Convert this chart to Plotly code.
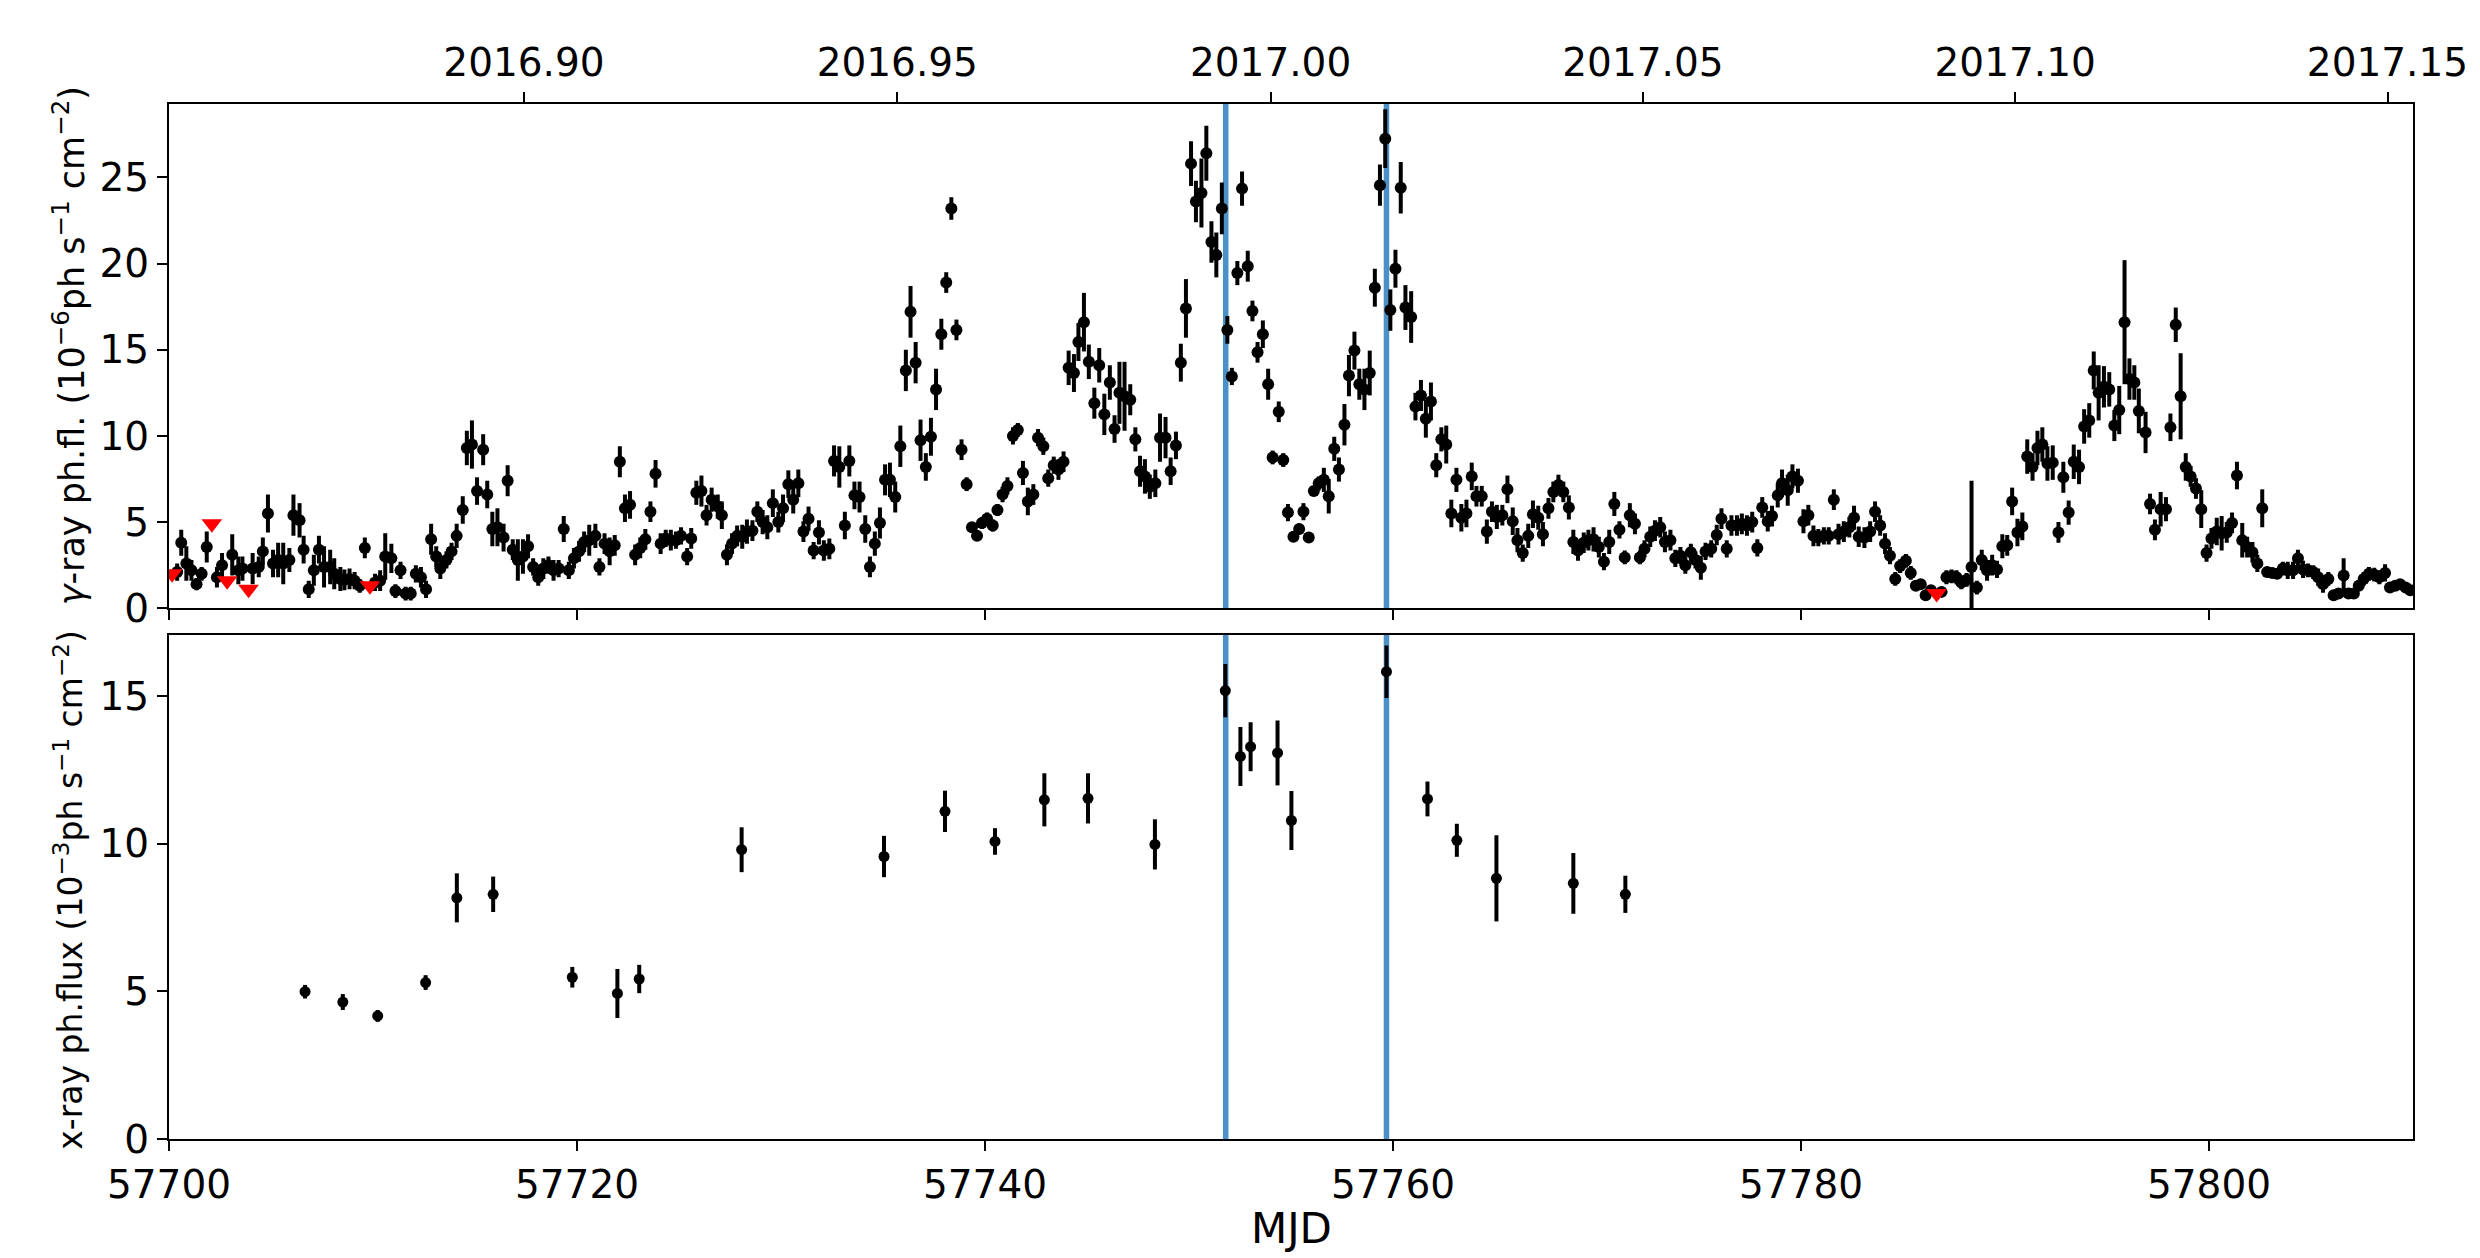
import plotly.graph_objects as go

# ---------------------------------------------------------------------------
# Fermi-LAT gamma-ray light curve (6-hour bins)
# ---------------------------------------------------------------------------
gamma_mjd = [
    57700.4, 57700.6, 57700.85, 57701.1, 57701.35, 57701.6, 57701.85, 57702.35, 57702.6, 57703.1,
    57703.4, 57703.6, 57704.1, 57704.4, 57704.6, 57704.85, 57705.1, 57705.35, 57705.6, 57705.9,
    57706.1, 57706.4, 57706.6, 57706.85, 57707.1, 57707.35, 57707.6, 57707.9, 57708.1, 57708.4,
    57708.6, 57708.85, 57709.1, 57709.35, 57709.6, 57710.1, 57710.35, 57710.6, 57710.9, 57711.1,
    57711.35, 57711.6, 57711.85, 57712.1, 57712.35, 57712.6, 57712.85, 57713.1, 57713.3, 57713.6,
    57713.85, 57714.1, 57714.4, 57714.6, 57714.85, 57715.1, 57715.4, 57715.6, 57715.85, 57716.1,
    57716.4, 57716.6, 57716.85, 57717.1, 57717.35, 57717.6, 57717.85, 57718.1, 57718.35, 57718.6,
    57718.85, 57719.1, 57719.35, 57719.6, 57719.85, 57720.1, 57720.35, 57720.6, 57720.9, 57721.1,
    57721.35, 57721.6, 57721.85, 57722.1, 57722.35, 57722.6, 57722.85, 57723.1, 57723.35, 57723.6,
    57723.85, 57724.1, 57724.35, 57724.6, 57724.85, 57725.1, 57725.4, 57725.6, 57725.85, 57726.1,
    57726.35, 57726.6, 57726.9, 57727.1, 57727.35, 57727.6, 57727.85,
    57728.1, 57728.33, 57728.6, 57728.84, 57729.1, 57729.33, 57729.6, 57729.87, 57730.1, 57730.36,
    57730.6, 57730.85, 57731.1, 57731.35, 57731.6, 57731.86, 57732.1, 57732.37, 57732.6, 57732.86,
    57733.13, 57733.35, 57733.6, 57733.85, 57734.13, 57734.36, 57734.6, 57734.85, 57735.1, 57735.34,
    57735.6, 57735.85, 57736.12, 57736.35, 57736.6, 57736.84, 57737.1, 57737.35, 57737.6, 57737.86,
    57738.1, 57738.35, 57738.6, 57738.85, 57739.1, 57739.36, 57739.61, 57739.85, 57740.1, 57740.38,
    57740.61, 57740.86, 57741.1, 57741.37, 57741.61, 57741.86, 57742.1, 57742.37, 57742.6, 57742.86,
    57743.1, 57743.37, 57743.6, 57743.85, 57744.1, 57744.36, 57744.58, 57744.85, 57745.09, 57745.36,
    57745.6, 57745.85, 57746.12, 57746.35, 57746.59, 57746.84, 57747.12, 57747.37, 57747.6, 57747.84,
    57748.08, 57748.35, 57748.58, 57748.85, 57749.1, 57749.36, 57749.6, 57749.85, 57750.1, 57750.34,
    57750.61, 57750.85, 57751.1, 57751.34, 57751.61, 57751.88, 57752.1, 57752.37, 57752.6, 57752.88,
    57753.11, 57753.36, 57753.62, 57753.88, 57754.1,
    57754.4, 57754.62, 57754.85, 57755.12, 57755.4, 57755.61, 57755.87, 57756.12, 57756.36, 57756.61,
    57756.85, 57757.12, 57757.35, 57757.62, 57757.84, 57758.11, 57758.35, 57758.6, 57758.86, 57759.11,
    57759.36, 57759.62, 57759.87, 57760.12, 57760.38, 57760.61, 57760.89, 57761.1, 57761.37, 57761.61,
    57761.86, 57762.12, 57762.37, 57762.61, 57762.86, 57763.11, 57763.35, 57763.6, 57763.86, 57764.09,
    57764.35, 57764.6, 57764.85, 57765.09, 57765.36, 57765.61, 57765.87, 57766.1, 57766.36, 57766.63,
    57766.86, 57767.12, 57767.35, 57767.62, 57767.86, 57768.11, 57768.35, 57768.62, 57768.84, 57769.07,
    57769.35, 57769.58, 57769.83, 57770.09, 57770.34, 57770.6, 57770.85, 57771.1, 57771.36, 57771.61,
    57771.86, 57772.1, 57772.33, 57772.61, 57772.84, 57773.1, 57773.33, 57773.6, 57773.84, 57774.09,
    57774.33, 57774.6, 57774.83, 57775.09, 57775.32, 57775.6, 57775.87, 57776.1, 57776.36, 57776.59,
    57776.86, 57777.1, 57777.35, 57777.61, 57777.86, 57778.1, 57778.37, 57778.58, 57778.86, 57779.07,
    57779.35, 57779.58, 57779.85, 57780.12, 57780.36, 57780.61, 57780.85, 57781.12, 57781.36, 57781.61,
    57781.84,
    57782.1, 57782.37, 57782.6, 57782.83, 57783.11, 57783.39, 57783.63, 57783.88, 57784.12, 57784.36,
    57784.62, 57784.86, 57785.14, 57785.38, 57785.63, 57785.87, 57786.11, 57786.37, 57786.89, 57787.13,
    57787.38, 57787.62, 57787.86, 57788.12, 57788.36, 57788.62, 57788.86, 57789.12, 57789.37, 57789.61,
    57789.87, 57790.11, 57790.35, 57790.61, 57790.85, 57791.09, 57791.35, 57791.59, 57791.83, 57792.08,
    57792.34, 57792.62, 57792.86, 57793.12, 57793.37, 57793.63, 57793.88, 57794.13, 57794.35, 57794.59,
    57794.85, 57795.11, 57795.36, 57795.6, 57795.86, 57796.1, 57796.34, 57796.56, 57796.89, 57797.11,
    57797.35, 57797.63, 57797.89, 57798.11, 57798.37, 57798.61, 57798.86, 57799.1, 57799.36, 57799.62,
    57799.88, 57800.12, 57800.38, 57800.62, 57800.87, 57801.13, 57801.37, 57801.63, 57801.87, 57802.13,
    57802.37, 57802.61, 57802.85, 57803.1, 57803.34, 57803.62, 57803.86, 57804.12, 57804.36, 57804.61,
    57804.85, 57805.11, 57805.35, 57805.59, 57805.85, 57806.11, 57806.35, 57806.6, 57806.84, 57807.1,
    57807.34, 57807.58, 57807.84, 57808.1, 57808.35, 57808.63, 57808.87, 57809.13, 57809.37, 57809.64,
    57809.87,
]

gamma_flux = [
    2.1, 3.8, 2.6, 2.2, 1.4, 2.0, 3.56, 1.8, 2.5, 3.1,
    2.2, 2.3, 2.3, 2.4, 3.3, 5.5, 2.6, 2.8, 2.6, 2.8,
    5.4, 5.1, 3.4, 1.1, 2.2, 3.4, 2.4, 2.4, 2.0, 1.7,
    1.65, 1.7, 1.6, 1.3, 3.5, 1.5, 1.6, 3.0, 2.9, 1.0,
    2.2, 0.85, 0.85, 2.0, 1.8, 1.1, 4.0, 3.0, 2.3, 2.8,
    3.3, 4.2, 5.7, 9.3, 9.5, 6.8, 9.2, 6.6, 4.6, 4.7,
    4.1, 7.4, 3.4, 2.8, 3.0, 3.6, 2.4, 1.8, 2.3, 2.5,
    2.2, 2.3, 4.6, 2.2, 2.9, 3.3, 3.85, 3.95, 4.2, 2.4,
    3.75, 3.3, 3.65, 8.5, 5.8, 6.0, 3.1, 3.5, 4.0, 5.6,
    7.8, 3.75, 4.05, 3.95, 3.95, 4.2, 3.0, 4.05, 6.7, 6.8,
    5.4, 6.3, 5.9, 5.4, 3.1, 3.75, 4.2,
    4.15, 4.45, 4.5, 5.6, 5.0, 4.7, 6.1, 5.0, 5.8, 7.2,
    6.3, 7.25, 4.45, 5.2, 3.35, 4.4, 3.35, 3.45, 8.55, 8.2,
    4.8, 8.55, 6.55, 6.45, 4.6, 2.4, 3.75, 4.95, 7.45, 7.45,
    6.45, 9.4, 13.8, 17.2, 14.25, 9.75, 8.2, 9.95, 12.7, 15.9,
    18.9, 23.2, 16.15, 9.2, 7.2, 4.7, 4.2, 4.95, 5.2, 4.8,
    5.7, 6.6, 7.1, 10.0, 10.35, 7.85, 6.2, 6.6, 9.9, 9.4,
    7.55, 8.3, 8.05, 8.5, 13.95, 13.65, 15.45, 16.6, 14.3, 11.9,
    14.1, 11.25, 13.1, 10.4, 12.5, 12.3, 12.1, 9.8, 7.95, 7.65,
    7.05, 7.25, 9.9, 9.9, 7.95, 9.45, 14.25, 17.4, 25.8, 23.6,
    24.1, 26.4, 21.25, 20.5, 23.2, 16.15, 13.45, 19.45, 24.35, 19.85,
    17.25, 14.85, 15.9, 13.0, 8.75,
    11.4, 8.6, 5.55, 4.15, 4.6, 5.6, 4.1, 6.8, 7.25, 7.45,
    6.5, 9.25, 8.05, 10.65, 13.5, 14.95, 13.0, 12.7, 13.65, 18.6,
    24.55, 27.25, 17.3, 19.7, 24.4, 17.45, 16.9, 11.7, 12.35, 11.0,
    12.0, 8.3, 9.8, 9.5, 5.5, 7.45, 5.25, 5.5, 7.65, 6.5,
    6.5, 4.45, 5.6, 5.3, 5.4, 6.9, 5.05, 3.95, 3.2, 4.2,
    5.45, 5.25, 4.3, 5.8, 6.75, 7.15, 6.75, 5.85, 3.85, 3.35,
    3.8, 3.95, 4.0, 3.55, 2.7, 3.85, 6.05, 4.55, 2.95, 5.4,
    4.9, 2.95, 3.45, 4.15, 4.5, 4.7, 3.85, 3.95, 2.9, 3.05,
    2.5, 3.25, 2.8, 2.35, 3.3, 3.45, 4.25, 5.2, 3.45, 4.8,
    4.8, 4.9, 4.8, 5.0, 3.5, 5.85, 5.05, 5.35, 6.55, 7.25,
    6.85, 7.65, 7.4, 5.05, 5.4, 4.2, 4.1, 4.2, 4.2, 6.3,
    4.3,
    4.45, 4.7, 5.25, 4.15, 4.1, 4.45, 5.6, 4.8, 3.75, 3.05,
    1.7, 2.45, 2.75, 2.05, 1.3, 1.4, 0.75, 1.05, 0.95, 1.8,
    1.85, 1.8, 1.5, 1.65, 2.4, 1.2, 2.8, 2.2, 2.5, 2.25,
    3.6, 3.65, 6.2, 4.4, 4.75, 8.8, 8.2, 9.3, 9.5, 8.4,
    8.45, 4.4, 7.6, 5.55, 8.5, 8.2, 10.55, 10.9, 13.8, 12.5,
    12.85, 12.7, 10.6, 11.5, 16.6, 13.3, 13.1, 11.45, 10.2, 6.05,
    4.55, 5.75, 5.75, 10.5, 16.45, 12.3, 8.2, 7.65, 6.95, 5.75,
    3.2, 4.05, 4.45, 4.35, 4.4, 4.95, 7.7, 3.95, 3.55, 3.25,
    2.6, 5.8, 2.1, 2.05, 2.0, 2.3, 2.2, 2.2, 2.9, 2.25,
    2.2, 2.1, 1.8, 1.4, 1.7, 0.75, 0.85, 1.9, 0.85, 0.85,
    1.3, 1.7, 2.0, 1.95, 1.8, 2.05, 1.2, 1.3, 1.4, 1.2,
    1.05,
]

gamma_err = [
    0.5, 0.75, 1.0, 0.6, 0.35, 0.4, 0.9, 0.6, 0.7, 1.2,
    0.8, 0.7, 0.9, 0.6, 0.8, 1.1, 0.8, 1.0, 1.2, 0.7,
    1.2, 1.0, 0.8, 0.5, 0.9, 0.8, 1.2, 1.0, 0.9, 0.7,
    0.6, 0.6, 0.5, 0.4, 0.6, 0.5, 0.6, 1.35, 0.85, 0.4,
    0.5, 0.4, 0.4, 0.5, 0.6, 0.5, 0.9, 0.6, 0.6, 0.5,
    0.5, 0.7, 0.8, 1.0, 1.4, 0.8, 0.9, 0.8, 1.0, 1.1,
    0.8, 0.9, 0.6, 1.2, 1.0, 0.7, 0.5, 0.5, 0.6, 0.5,
    0.6, 0.5, 0.75, 0.5, 0.6, 0.6, 0.6, 0.9, 0.7, 0.5,
    0.6, 0.8, 0.6, 0.9, 0.8, 0.8, 0.6, 0.6, 0.6, 0.6,
    0.8, 0.6, 0.5, 0.6, 0.5, 0.5, 0.5, 0.6, 0.7, 0.9,
    0.6, 0.7, 0.7, 0.8, 0.6, 0.6, 0.6,
    0.7, 0.7, 0.6, 0.6, 0.7, 0.7, 0.8, 0.6, 0.8, 0.8,
    0.8, 0.8, 0.6, 0.7, 0.5, 0.7, 0.6, 0.6, 0.9, 1.2,
    0.8, 0.9, 0.8, 0.9, 0.8, 0.6, 0.7, 0.9, 0.9, 1.0,
    0.9, 1.2, 1.2, 1.5, 1.2, 1.2, 0.8, 1.1, 1.2, 0.9,
    0.6, 0.65, 0.6, 0.6, 0.4, 0.3, 0.3, 0.35, 0.35, 0.35,
    0.35, 0.45, 0.5, 0.5, 0.4, 0.7, 0.8, 0.6, 0.5, 0.5,
    0.5, 0.5, 0.6, 0.6, 1.0, 1.1, 1.1, 1.7, 1.0, 0.9,
    1.0, 1.2, 1.0, 0.8, 1.8, 2.0, 0.9, 0.7, 0.9, 1.0,
    0.7, 0.8, 1.4, 1.2, 0.8, 0.8, 1.1, 1.7, 1.3, 1.2,
    2.0, 1.6, 1.2, 1.3, 1.5, 0.8, 0.5, 0.7, 1.0, 0.9,
    0.6, 0.6, 0.8, 0.9, 0.4,
    0.6, 0.4, 0.5, 0.3, 0.3, 0.5, 0.3, 0.3, 0.4, 0.7,
    1.0, 0.7, 0.7, 1.2, 1.2, 1.1, 0.9, 1.2, 1.3, 1.1,
    1.2, 1.7, 1.2, 1.1, 1.5, 1.3, 1.5, 0.8, 0.9, 1.1,
    1.1, 0.7, 0.7, 1.1, 0.8, 0.7, 0.8, 0.8, 0.8, 0.6,
    0.6, 0.7, 0.6, 0.7, 0.6, 0.8, 0.8, 0.7, 0.5, 0.7,
    0.8, 0.7, 0.7, 0.6, 0.6, 0.6, 0.6, 0.7, 0.7, 0.6,
    0.6, 0.6, 0.7, 0.6, 0.5, 0.7, 0.7, 0.5, 0.4, 0.7,
    0.6, 0.4, 0.5, 0.6, 0.6, 0.6, 0.6, 0.6, 0.5, 0.5,
    0.5, 0.5, 0.5, 0.7, 0.5, 0.5, 0.6, 0.6, 0.5, 0.6,
    0.6, 0.6, 0.6, 0.6, 0.5, 0.6, 0.6, 0.6, 0.7, 0.8,
    0.9, 0.7, 0.7, 0.7, 0.6, 0.6, 0.5, 0.5, 0.5, 0.6,
    0.6,
    0.6, 0.6, 0.7, 0.6, 0.6, 0.6, 0.6, 0.6, 0.6, 0.5,
    0.4, 0.4, 0.4, 0.4, 0.3, 0.3, 0.3, 0.3, 0.3, 0.4,
    0.4, 0.4, 0.4, 0.4, 5.0, 0.4, 0.6, 0.6, 0.6, 0.5,
    0.7, 0.6, 0.8, 0.8, 0.8, 1.0, 0.8, 1.0, 1.0, 1.0,
    1.0, 0.6, 0.9, 0.7, 1.0, 1.0, 1.0, 1.0, 1.1, 1.6,
    1.2, 1.0, 0.9, 1.4, 3.6, 1.2, 1.0, 1.3, 1.2, 0.6,
    0.6, 1.0, 0.7, 0.8, 1.0, 2.5, 0.8, 0.6, 0.6, 1.1,
    0.5, 0.6, 0.8, 1.0, 0.6, 0.6, 0.8, 1.0, 0.6, 0.6,
    0.5, 1.1, 0.3, 0.3, 0.3, 0.4, 0.5, 0.5, 0.5, 0.5,
    0.4, 0.4, 0.5, 0.5, 0.4, 0.3, 0.3, 1.0, 0.3, 0.3,
    0.3, 0.4, 0.4, 0.4, 0.4, 0.5, 0.3, 0.3, 0.3, 0.3,
    0.3,
]

# Bins with TS below threshold: 95% upper limits
ul_mjd = [57700.15, 57702.1, 57702.85, 57703.9, 57709.85, 57786.65]
ul_flux = [2.0, 4.9, 1.6, 1.1, 1.3, 0.85]

# ---------------------------------------------------------------------------
# Swift-XRT X-ray photon flux
# ---------------------------------------------------------------------------
xray_mjd = [
    57706.67, 57708.52, 57710.23, 57712.58, 57714.11, 57715.89, 57719.77, 57721.98, 57723.05, 57728.07,
    57735.05, 57738.04, 57740.49, 57742.91, 57745.05, 57748.33, 57751.78, 57752.52, 57753.02, 57754.34,
    57755.02, 57759.68, 57761.69, 57763.13, 57765.07, 57768.84, 57771.39,
]
xray_flux = [
    4.99, 4.64, 4.17, 5.30, 8.17, 8.29, 5.48, 4.93, 5.42, 9.80,
    9.57, 11.10, 10.08, 11.49, 11.54, 9.98, 15.19, 12.96, 13.29, 13.08,
    10.79, 15.83, 11.52, 10.12, 8.83, 8.66, 8.29,
]
xray_err = [
    0.23, 0.27, 0.20, 0.25, 0.83, 0.60, 0.35, 0.83, 0.48, 0.76,
    0.70, 0.70, 0.45, 0.90, 0.85, 0.85, 0.90, 1.00, 0.83, 1.10,
    1.00, 0.89, 0.59, 0.56, 1.46, 1.03, 0.63,
]

# Epochs of the two flares marked in both panels
flare_mjd = [57751.8, 57759.68]

# Upper axis: decimal-year ticks
year_ticks = [2016.90, 2016.95, 2017.00, 2017.05, 2017.10, 2017.15]

mjd_range = [57700, 57810]
mjd_ticks = [57700, 57720, 57740, 57760, 57780, 57800]


def decimal_year_to_mjd(dy):
    """Convert a decimal year (2016/2017) to MJD."""
    year = int(dy)
    start = {2016: 57388.0, 2017: 57754.0}[year]
    length = 366.0 if year % 4 == 0 else 365.0
    return start + (dy - year) * length


FONT = "DejaVu Sans"
TICK_FONT = dict(family=FONT, size=39, color="black")
LINE_W = 2.2
TICK_LEN = 10
FLARE_COLOR = "#4c90c8"
MARKER_SIZE = 12
ERR_W = 4

fig = go.Figure()

# gamma-ray detections
fig.add_trace(go.Scatter(
    x=gamma_mjd, y=gamma_flux, xaxis="x2", yaxis="y2", mode="markers",
    marker=dict(color="black", size=MARKER_SIZE),
    error_y=dict(type="data", array=gamma_err, thickness=ERR_W, width=0, color="black"),
    showlegend=False,
))
# gamma-ray upper limits
fig.add_trace(go.Scatter(
    x=ul_mjd, y=ul_flux, xaxis="x2", yaxis="y2", mode="markers",
    marker=dict(color="red", size=18, symbol="triangle-down"),
    showlegend=False,
))
# invisible carrier for the decimal-year axis
fig.add_trace(go.Scatter(
    x=mjd_range, y=[None, None], xaxis="x3", yaxis="y2", mode="markers",
    showlegend=False, hoverinfo="skip",
))
# X-ray points
fig.add_trace(go.Scatter(
    x=xray_mjd, y=xray_flux, xaxis="x", yaxis="y", mode="markers",
    marker=dict(color="black", size=MARKER_SIZE - 1),
    error_y=dict(type="data", array=xray_err, thickness=ERR_W, width=0, color="black"),
    showlegend=False,
))

# vertical flare markers in both panels
for t in flare_mjd:
    fig.add_shape(type="line", xref="x2", yref="y2 domain", x0=t, x1=t, y0=0, y1=1,
                  line=dict(color=FLARE_COLOR, width=5.5), layer="below")
    fig.add_shape(type="line", xref="x", yref="y domain", x0=t, x1=t, y0=0, y1=1,
                  line=dict(color=FLARE_COLOR, width=5.5), layer="below")

axis_common = dict(
    showline=True, linecolor="black", linewidth=LINE_W,
    ticks="outside", ticklen=TICK_LEN, tickwidth=LINE_W, tickcolor="black",
    showgrid=False, zeroline=False, tickfont=TICK_FONT,
)

fig.update_layout(
    width=2480, height=1258,
    margin=dict(l=169, r=65, t=104, b=119),
    paper_bgcolor="white", plot_bgcolor="white",
    font=dict(family=FONT, color="black"),
    xaxis=dict(domain=[0, 1], anchor="y", range=mjd_range, tickvals=mjd_ticks,
               ticktext=[str(v) for v in mjd_ticks], mirror=True, **axis_common),
    yaxis=dict(domain=[0, 0.4874], anchor="x", range=[0, 17.09],
               tickvals=[0, 5, 10, 15], mirror=True, **axis_common),
    xaxis2=dict(domain=[0, 1], anchor="y2", range=mjd_range, tickvals=mjd_ticks,
                showticklabels=False, matches="x", mirror=False, **axis_common),
    yaxis2=dict(domain=[0.5128, 1], anchor="x2", range=[0, 29.26],
                tickvals=[0, 5, 10, 15, 20, 25], mirror=True, **axis_common),
    xaxis3=dict(overlaying="x2", anchor="y2", side="top", range=mjd_range,
                tickvals=[decimal_year_to_mjd(v) for v in year_ticks],
                ticktext=[f"{v:.2f}" for v in year_ticks], **axis_common),
    annotations=[
        dict(text="MJD", xref="paper", yref="paper", x=0.5, y=-0.086,
             xanchor="center", yanchor="middle", showarrow=False,
             font=dict(family=FONT, size=42, color="black")),
        dict(text="<i>γ</i>-ray ph.fl. (10<sup>−6</sup>ph s<sup>−1</sup> cm<sup>−2</sup>)",
             xref="paper", yref="paper", x=-0.0445, y=0.766, textangle=-90,
             xanchor="center", yanchor="middle", showarrow=False,
             font=dict(family=FONT, size=35, color="black")),
        dict(text="x-ray ph.flux (10<sup>−3</sup>ph s<sup>−1</sup> cm<sup>−2</sup>)",
             xref="paper", yref="paper", x=-0.0445, y=0.241, textangle=-90,
             xanchor="center", yanchor="middle", showarrow=False,
             font=dict(family=FONT, size=33, color="black")),
    ],
)

fig.write_html("out.html")
